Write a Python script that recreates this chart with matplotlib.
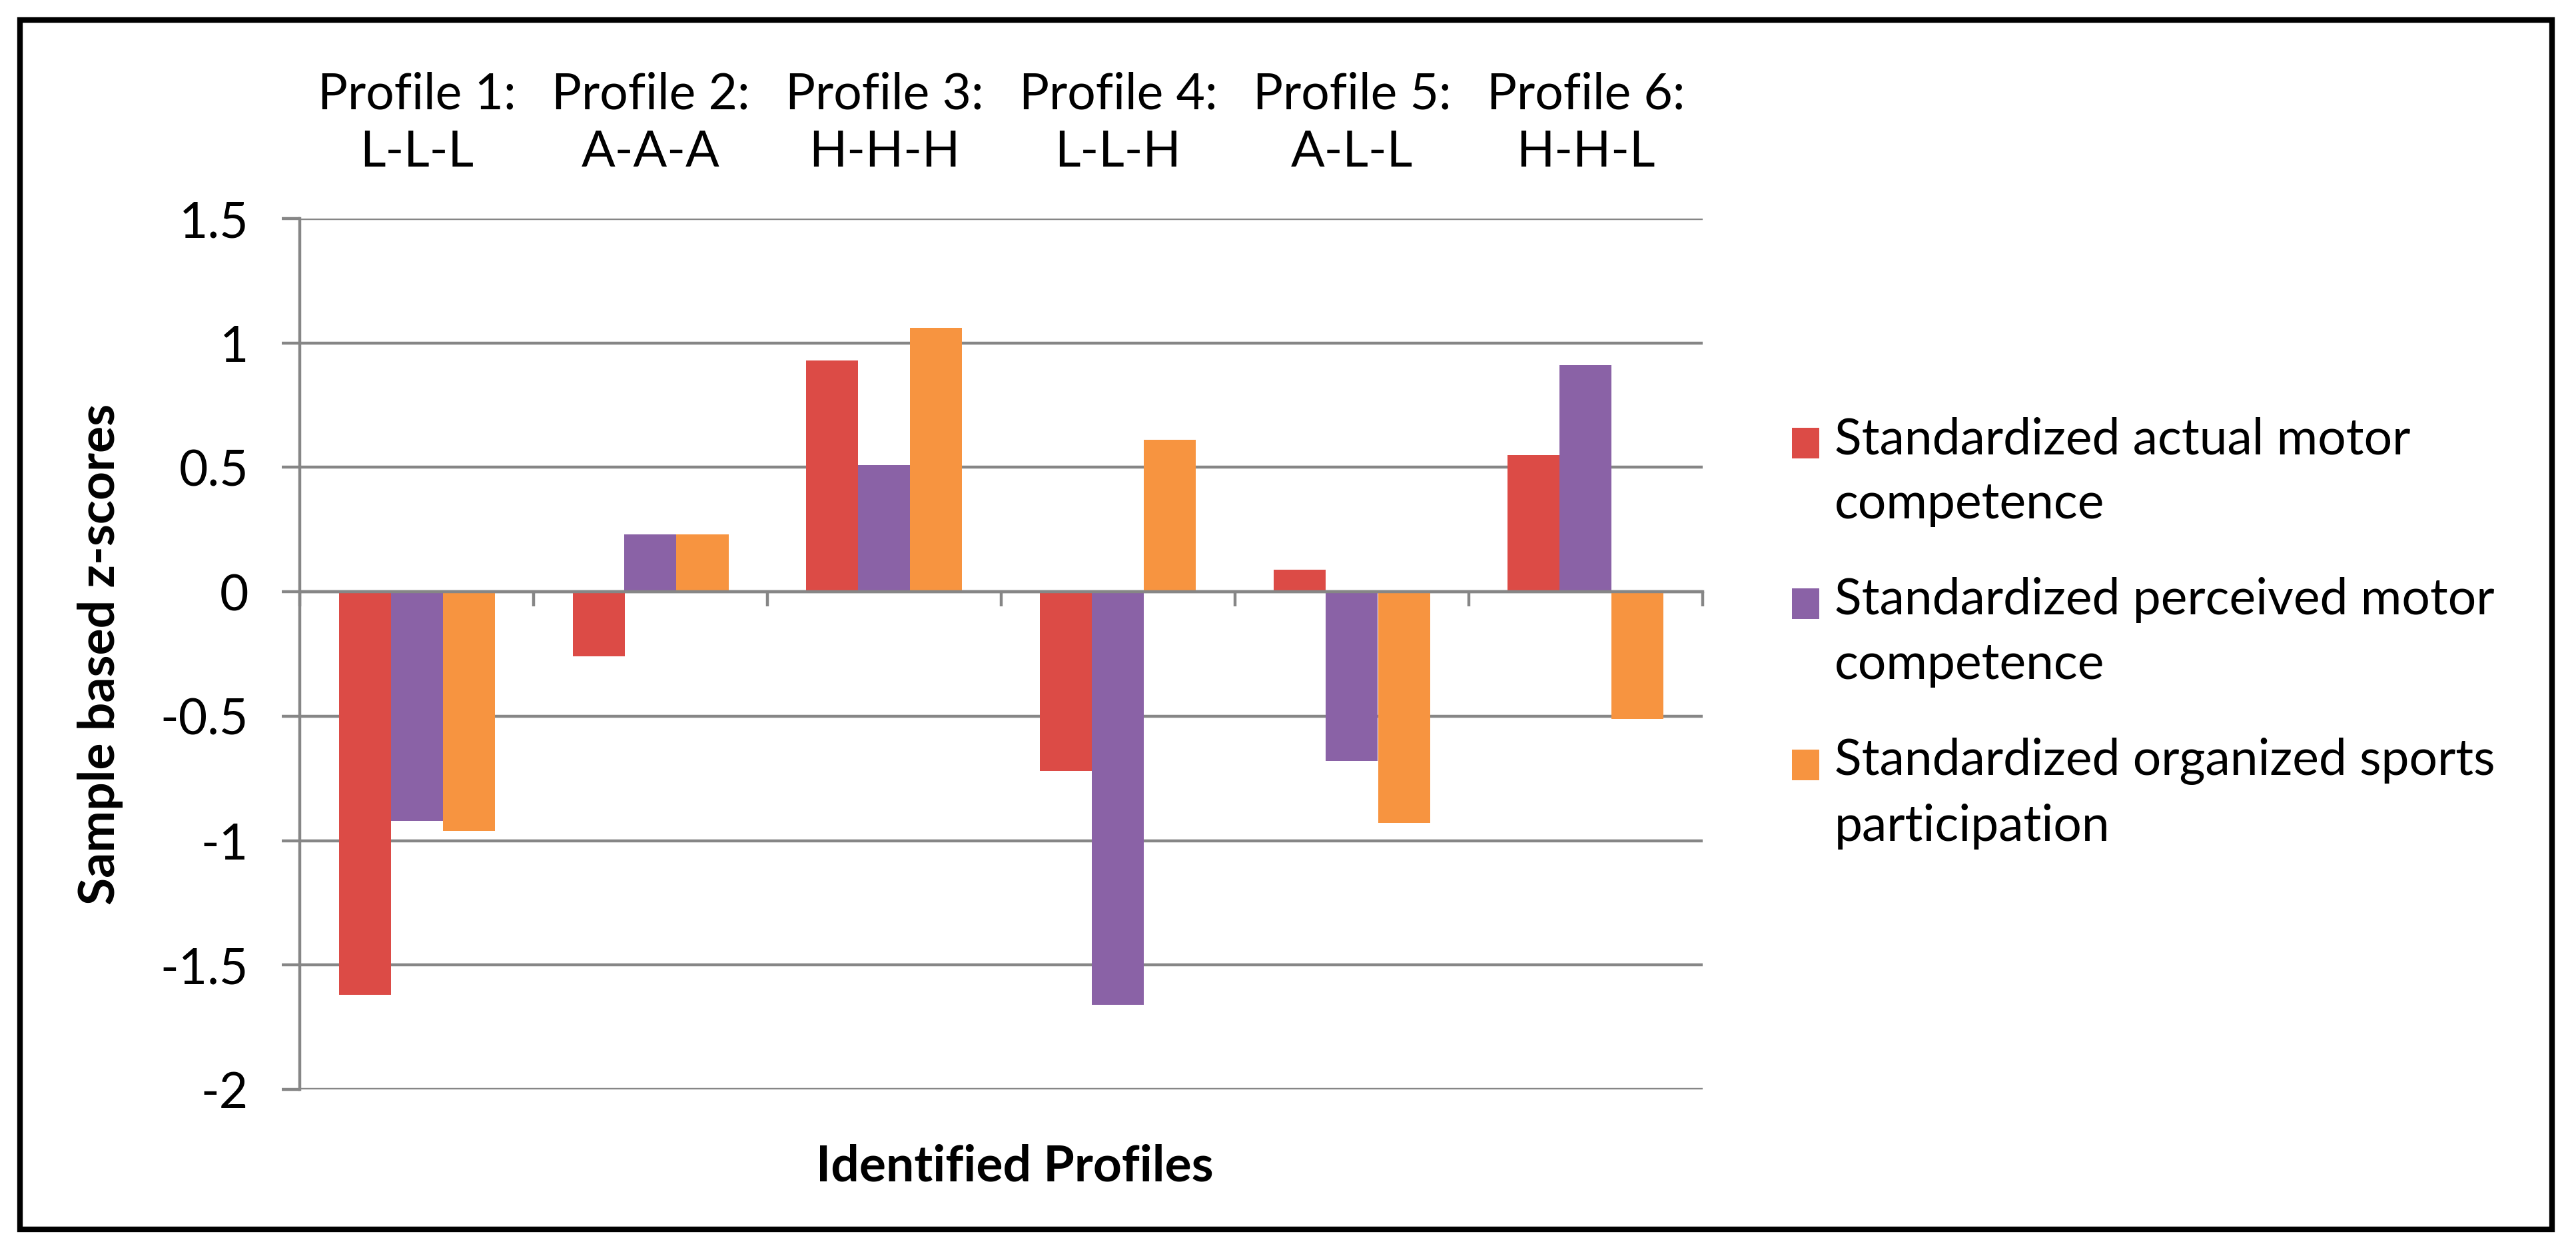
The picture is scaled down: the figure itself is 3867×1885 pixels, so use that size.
import numpy as np
import matplotlib
matplotlib.use("Agg")
import matplotlib.pyplot as plt
from matplotlib.patches import Rectangle

# ------------------
# Data
# ------------------
profiles = ["Profile 1:\nL-L-L", "Profile 2:\nA-A-A", "Profile 3:\nH-H-H",
            "Profile 4:\nL-L-H", "Profile 5:\nA-L-L", "Profile 6:\nH-H-L"]
series_names = ["Standardized actual motor\ncompetence",
                "Standardized perceived motor\ncompetence",
                "Standardized organized sports\nparticipation"]
actual_mc = [-1.62, -0.26, 0.93, -0.72, 0.09, 0.55]
perceived_mc = [-0.92, 0.23, 0.51, -1.66, -0.68, 0.91]
sports = [-0.96, 0.23, 1.06, 0.61, -0.93, -0.51]
yticks = [-2, -1.5, -1, -0.5, 0, 0.5, 1, 1.5]
ytick_labels = ["-2", "-1.5", "-1", "-0.5", "0", "0.5", "1", "1.5"]

colors = ["#DC4B46", "#8A62A6", "#F79440"]
GRAY = "#868686"

# ------------------
# Figure
# ------------------
W, H, DPI = 3867, 1885, 200
plt.rcParams['font.family'] = ['Lato', 'DejaVu Sans']
fig = plt.figure(figsize=(W / DPI, H / DPI), dpi=DPI)

# axes box in pixels: x 450..2556, y 328..1635
ax = fig.add_axes([450 / W, 1 - 1635 / H, (2556 - 450) / W, (1635 - 328) / H])

x = np.arange(len(profiles))
bw = 1 / 4.5
for i, vals in enumerate([actual_mc, perceived_mc, sports]):
    ax.bar(x + (i - 1) * bw, vals, bw, color=colors[i], label=series_names[i], zorder=2)

ax.set_xlim(-0.5, len(profiles) - 0.5)
ax.set_ylim(-2, 1.5)
ax.set_yticks(yticks)
ax.set_yticklabels(ytick_labels)

ax.yaxis.grid(True, color=GRAY, lw=1.6)
ax.set_axisbelow(True)

for s in ["top", "right"]:
    ax.spines[s].set_visible(False)
ax.spines["left"].set_color(GRAY)
ax.spines["left"].set_linewidth(1.6)
ax.spines["bottom"].set_position(("data", 0))
ax.spines["bottom"].set_color(GRAY)
ax.spines["bottom"].set_linewidth(1.6)
ax.spines["bottom"].set_zorder(3)

# category labels on top, boundary ticks on the zero line
ax.set_xticks(x)
ax.set_xticklabels(profiles)
ax.set_xticks(np.arange(len(profiles) + 1) - 0.5, minor=True)
ax.tick_params(axis="x", which="major", bottom=False, top=False,
               labelbottom=False, labeltop=True, labelsize=27, pad=20)
ax.tick_params(axis="x", which="minor", bottom=True, top=False,
               direction="out", length=8, width=1.6, color=GRAY)
for t in ax.get_xticklabels():
    t.set_linespacing(1.3)
ax.tick_params(axis="y", direction="out", length=9.7, width=1.6, color=GRAY,
               labelsize=27, pad=18)

ax.set_ylabel("Sample based z-scores", fontsize=27, fontweight="bold", va="center")
ax.yaxis.set_label_coords((150 - 450) / 2106, 0.5)
ax.set_xlabel("Identified Profiles", fontsize=27, fontweight="bold", va="center")
ax.xaxis.set_label_position("bottom")
ax.xaxis.set_label_coords((1523 - 450) / 2106, (1635 - 1716) / 1307)

leg = ax.legend(loc="upper left", bbox_to_anchor=(2660 / W, 1 - 595 / H),
                bbox_transform=fig.transFigure, frameon=False, fontsize=27,
                handlelength=0.55, handleheight=0.55, handletextpad=0.3,
                labelspacing=1.0, borderaxespad=0)
for t in leg.get_texts():
    t.set_linespacing(1.5)
# square sits beside the first line of each label
for h in leg.legend_handles:
    h.set_y(h.get_y() + 16)

# outer frame
fig.patches.append(Rectangle((30 / W, 1 - 1845 / H), (3831 - 30) / W, (1845 - 30) / H,
                             transform=fig.transFigure, fill=False,
                             edgecolor="black", lw=3))

fig.savefig("out.png", dpi=DPI)
